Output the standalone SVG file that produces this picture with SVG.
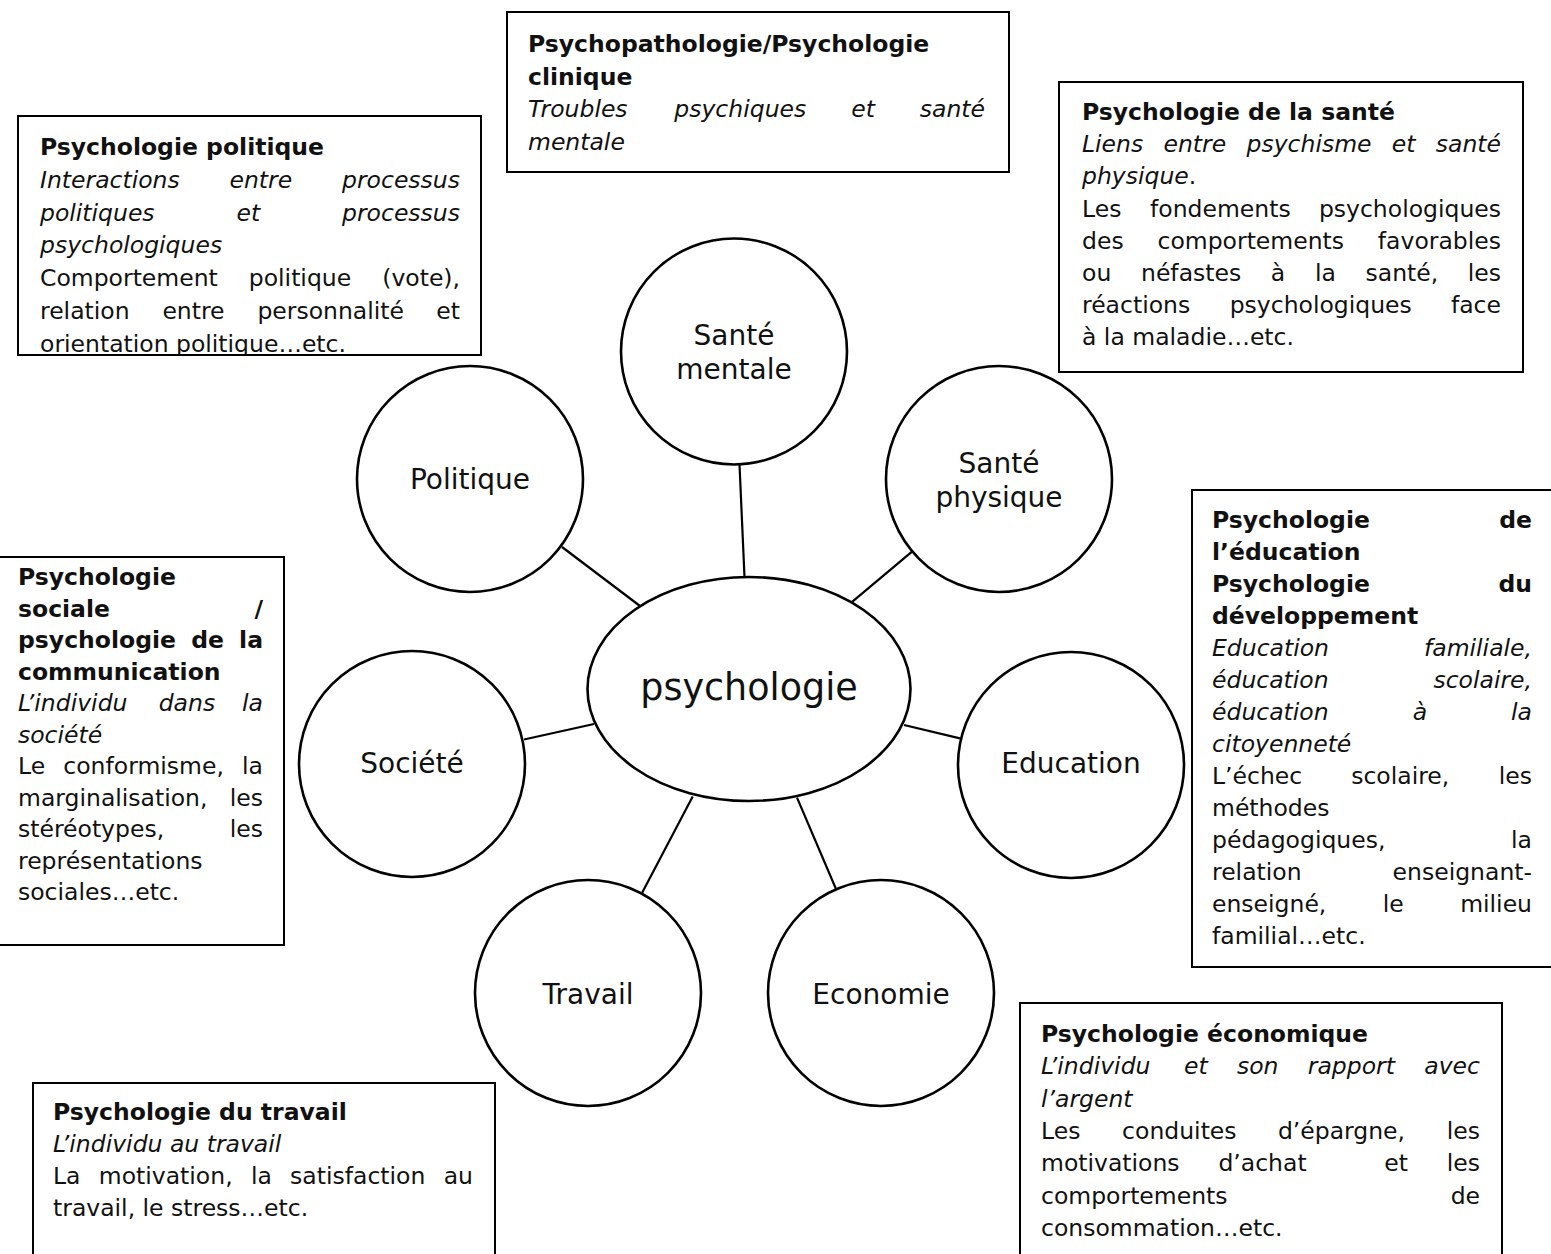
<svg xmlns="http://www.w3.org/2000/svg" width="1551" height="1254" viewBox="0 0 1551 1254">
<style>
  text { font-family: "DejaVu Sans", "Noto Sans", sans-serif; font-size: 23.5px; fill: #111; }
  .b { font-weight: bold; }
  .i { font-style: italic; }
  .e { text-anchor: end; }
  .lbl { font-size: 28px; text-anchor: middle; }
  .ctr { font-size: 36.5px; text-anchor: middle; }
  .box { fill: #fff; stroke: #000; stroke-width: 2; }
  .circ { fill: #fff; stroke: #000; stroke-width: 2.6; }
  .con { stroke: #000; stroke-width: 2.2; fill: none; }
</style>
<defs>
  <clipPath id="clipPol"><rect x="18" y="116" width="463" height="238.5"/></clipPath>
</defs>
<rect x="0" y="0" width="1551" height="1254" fill="#fff"/>

<g id="connectors">
  <line class="con" x1="562" y1="547" x2="640" y2="606"/>
  <line class="con" x1="739.5" y1="464.5" x2="744.5" y2="577"/>
  <line class="con" x1="912" y1="551.6" x2="852.4" y2="601.7"/>
  <line class="con" x1="524" y1="739.5" x2="594" y2="724"/>
  <line class="con" x1="904" y1="725" x2="960" y2="738.4"/>
  <line class="con" x1="692.7" y1="796.5" x2="642" y2="893"/>
  <line class="con" x1="797" y1="797.6" x2="836" y2="889"/>
</g>

<g id="node-psychologie">
  <ellipse class="circ" cx="749" cy="689" rx="161.5" ry="112"/>
  <text class="ctr" x="749" y="700">psychologie</text>
</g>
<g id="node-sante-mentale">
  <circle class="circ" cx="734" cy="351.5" r="113"/>
  <text class="lbl" x="734" y="345">Santé</text>
  <text class="lbl" x="734" y="379">mentale</text>
</g>
<g id="node-politique">
  <circle class="circ" cx="470" cy="479" r="113"/>
  <text class="lbl" x="470" y="489">Politique</text>
</g>
<g id="node-sante-physique">
  <circle class="circ" cx="999" cy="479" r="113"/>
  <text class="lbl" x="999" y="472.5">Santé</text>
  <text class="lbl" x="999" y="506.5">physique</text>
</g>
<g id="node-societe">
  <circle class="circ" cx="412" cy="764" r="113"/>
  <text class="lbl" x="412" y="773">Société</text>
</g>
<g id="node-education">
  <circle class="circ" cx="1071" cy="765" r="113"/>
  <text class="lbl" x="1071" y="773">Education</text>
</g>
<g id="node-travail">
  <circle class="circ" cx="588" cy="993" r="113"/>
  <text class="lbl" x="588" y="1004">Travail</text>
</g>
<g id="node-economie">
  <circle class="circ" cx="881" cy="993" r="113"/>
  <text class="lbl" x="881" y="1004">Economie</text>
</g>

<g id="box-politique">
  <rect class="box" x="18" y="116" width="463" height="239"/>
  <g clip-path="url(#clipPol)">
    <text class="b" x="40" y="155">Psychologie politique</text>
    <text class="i" x="40" y="187.8">Interactions</text>
    <text class="i" x="229.5" y="187.8">entre</text>
    <text class="i e" x="460" y="187.8">processus</text>
    <text class="i" x="40" y="220.6">politiques</text>
    <text class="i" x="236.5" y="220.6">et</text>
    <text class="i e" x="460" y="220.6">processus</text>
    <text class="i" x="40" y="253.4">psychologiques</text>
    <text x="40" y="286.2">Comportement</text>
    <text x="248.8" y="286.2">politique</text>
    <text class="e" x="460" y="286.2">(vote),</text>
    <text x="40" y="319">relation</text>
    <text x="162.4" y="319">entre</text>
    <text x="257.4" y="319">personnalité</text>
    <text class="e" x="460" y="319">et</text>
    <text x="40" y="351.8">orientation politique…etc.</text>
  </g>
</g>

<g id="box-psychopathologie">
  <rect class="box" x="507" y="12" width="502" height="160"/>
  <text class="b" x="528" y="52">Psychopathologie/Psychologie</text>
  <text class="b" x="528" y="84.5">clinique</text>
  <text class="i" x="528" y="117">Troubles</text>
  <text class="i" x="674.3" y="117">psychiques</text>
  <text class="i" x="851.2" y="117">et</text>
  <text class="i e" x="985" y="117">santé</text>
  <text class="i" x="528" y="149.5">mentale</text>
</g>

<g id="box-sante">
  <rect class="box" x="1059" y="82" width="464" height="290"/>
  <text class="b" x="1082" y="120">Psychologie de la santé</text>
  <text class="i" x="1082" y="152.2">Liens</text>
  <text class="i" x="1163.5" y="152.2">entre</text>
  <text class="i" x="1246.5" y="152.2">psychisme</text>
  <text class="i" x="1391.8" y="152.2">et</text>
  <text class="i e" x="1501" y="152.2">santé</text>
  <text x="1082" y="184.4"><tspan class="i">physique</tspan>.</text>
  <text x="1082" y="216.6">Les</text>
  <text x="1150" y="216.6">fondements</text>
  <text class="e" x="1501" y="216.6">psychologiques</text>
  <text x="1082" y="248.8">des</text>
  <text x="1157.5" y="248.8">comportements</text>
  <text class="e" x="1501" y="248.8">favorables</text>
  <text x="1082" y="281">ou</text>
  <text x="1141" y="281">néfastes</text>
  <text x="1270.8" y="281">à</text>
  <text x="1314.9" y="281">la</text>
  <text x="1365.5" y="281">santé,</text>
  <text class="e" x="1501" y="281">les</text>
  <text x="1082" y="313.2">réactions</text>
  <text x="1229.7" y="313.2">psychologiques</text>
  <text class="e" x="1501" y="313.2">face</text>
  <text x="1082" y="345.4">à la maladie…etc.</text>
</g>

<g id="box-education">
  <rect class="box" x="1192" y="490" width="372" height="477"/>
  <text class="b" x="1212" y="528">Psychologie</text>
  <text class="b e" x="1532" y="528">de</text>
  <text class="b" x="1212" y="560">l’éducation</text>
  <text class="b" x="1212" y="592">Psychologie</text>
  <text class="b e" x="1532" y="592">du</text>
  <text class="b" x="1212" y="624">développement</text>
  <text class="i" x="1212" y="656">Education</text>
  <text class="i e" x="1532" y="656">familiale,</text>
  <text class="i" x="1212" y="688">éducation</text>
  <text class="i e" x="1532" y="688">scolaire,</text>
  <text class="i" x="1212" y="720">éducation</text>
  <text class="i" x="1412.7" y="720">à</text>
  <text class="i e" x="1532" y="720">la</text>
  <text class="i" x="1212" y="752">citoyenneté</text>
  <text x="1212" y="784">L’échec</text>
  <text x="1351.2" y="784">scolaire,</text>
  <text class="e" x="1532" y="784">les</text>
  <text x="1212" y="816">méthodes</text>
  <text x="1212" y="848">pédagogiques,</text>
  <text class="e" x="1532" y="848">la</text>
  <text x="1212" y="880">relation</text>
  <text class="e" x="1532" y="880">enseignant-</text>
  <text x="1212" y="912">enseigné,</text>
  <text x="1382.8" y="912">le</text>
  <text class="e" x="1532" y="912">milieu</text>
  <text x="1212" y="944">familial…etc.</text>
</g>

<g id="box-sociale">
  <rect class="box" x="-10" y="557" width="294" height="388"/>
  <text class="b" x="18" y="585">Psychologie</text>
  <text class="b" x="18" y="616.5">sociale</text>
  <text class="b e" x="263" y="616.5">/</text>
  <text class="b" x="18" y="648">psychologie</text>
  <text class="b" x="191.2" y="648">de</text>
  <text class="b e" x="263" y="648">la</text>
  <text class="b" x="18" y="679.5">communication</text>
  <text class="i" x="18" y="711">L’individu</text>
  <text class="i" x="158.7" y="711">dans</text>
  <text class="i e" x="263" y="711">la</text>
  <text class="i" x="18" y="742.5">société</text>
  <text x="18" y="774">Le</text>
  <text x="63.3" y="774">conformisme,</text>
  <text class="e" x="263" y="774">la</text>
  <text x="18" y="805.5">marginalisation,</text>
  <text class="e" x="263" y="805.5">les</text>
  <text x="18" y="837">stéréotypes,</text>
  <text class="e" x="263" y="837">les</text>
  <text x="18" y="868.5">représentations</text>
  <text x="18" y="900">sociales…etc.</text>
</g>

<g id="box-travail">
  <rect class="box" x="33" y="1083" width="462" height="200"/>
  <text class="b" x="53" y="1120">Psychologie du travail</text>
  <text class="i" x="53" y="1152">L’individu au travail</text>
  <text x="53" y="1184">La</text>
  <text x="98.8" y="1184">motivation,</text>
  <text x="250.9" y="1184">la</text>
  <text x="290.1" y="1184">satisfaction</text>
  <text class="e" x="473" y="1184">au</text>
  <text x="53" y="1216">travail, le stress…etc.</text>
</g>

<g id="box-economie">
  <rect class="box" x="1020" y="1003" width="482" height="280"/>
  <text class="b" x="1041" y="1042">Psychologie économique</text>
  <text class="i" x="1041" y="1074.3">L’individu</text>
  <text class="i" x="1184" y="1074.3">et</text>
  <text class="i" x="1237" y="1074.3">son</text>
  <text class="i" x="1307.8" y="1074.3">rapport</text>
  <text class="i e" x="1480" y="1074.3">avec</text>
  <text class="i" x="1041" y="1106.6">l’argent</text>
  <text x="1041" y="1138.9">Les</text>
  <text x="1122.1" y="1138.9">conduites</text>
  <text x="1277.9" y="1138.9">d’épargne,</text>
  <text class="e" x="1480" y="1138.9">les</text>
  <text x="1041" y="1171.2">motivations</text>
  <text x="1218.4" y="1171.2">d’achat</text>
  <text x="1384.2" y="1171.2">et</text>
  <text class="e" x="1480" y="1171.2">les</text>
  <text x="1041" y="1203.5">comportements</text>
  <text class="e" x="1480" y="1203.5">de</text>
  <text x="1041" y="1235.8">consommation…etc.</text>
</g>
</svg>
